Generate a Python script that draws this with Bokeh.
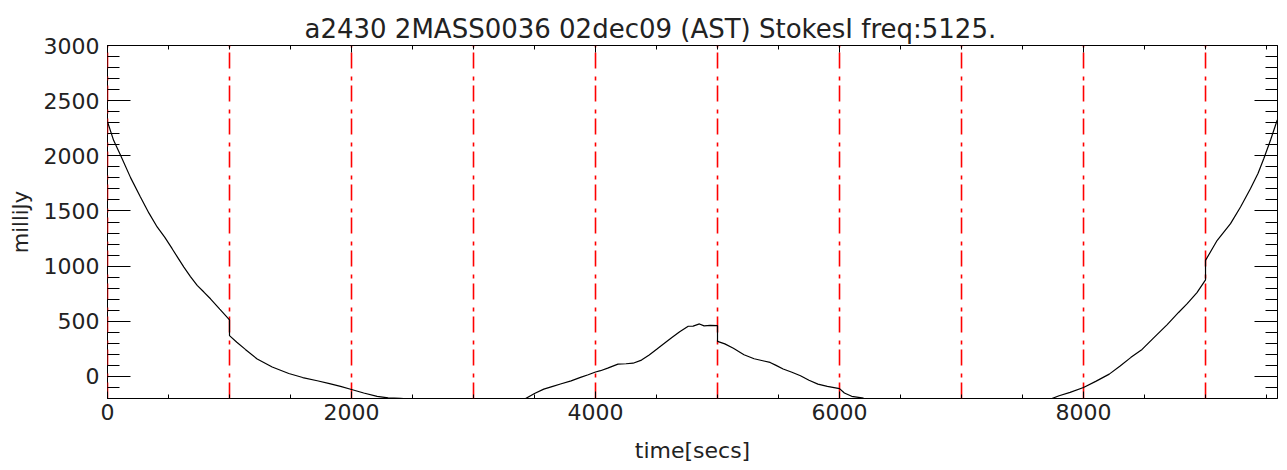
import numpy as np
from bokeh.plotting import figure
from bokeh.models import (LinearAxis, SingleIntervalTicker, Range1d,
                          CustomJSTickFormatter, ColumnDataSource)
from bokeh.embed import file_html
from bokeh.resources import INLINE

# ---- data ----
title_text = "a2430 2MASS0036 02dec09 (AST) StokesI freq:5125."
x_label = "time[secs]"
y_label = "milliJy"

seg1_t = [0, 50, 107, 190, 270, 340, 407, 470, 530, 580, 626, 680, 735, 790, 844, 920, 1000]
seg1_v = [2309, 2140, 2006, 1800, 1627, 1480, 1355, 1260, 1158, 1070, 991, 905, 825, 765, 704, 610, 513]

seg2_t = [1000, 1060, 1130, 1227, 1350, 1486, 1600, 1719, 1820, 1910, 2000, 2100, 2210, 2300, 2400, 2480]
seg2_v = [370, 310, 245, 158, 85, 27, -10, -39, -65, -90, -118, -150, -180, -195, -198, -205]

seg3_t = [3420, 3500, 3576, 3650, 3713, 3800, 3877, 3940, 4000, 4041, 4100, 4184, 4250, 4308,
          4377, 4440, 4504, 4570, 4629, 4690, 4760, 4800, 4852, 4890, 4940, 5000]
seg3_v = [-205, -155, -115, -90, -69, -40, -9, 15, 40, 52, 75, 112, 115, 120,
          148, 195, 248, 305, 355, 405, 455, 456, 476, 458, 462, 460]

seg4_t = [5000, 5060, 5130, 5217, 5300, 5380, 5431, 5480, 5538, 5610, 5680, 5750, 5823, 5900,
          6000, 6040, 6100, 6197]
seg4_v = [318, 295, 255, 197, 160, 140, 127, 100, 67, 38, 6, -35, -70, -90,
          -110, -150, -180, -197]

seg5_t = [7730, 7800, 7890, 8000, 8100, 8211, 8300, 8389, 8480, 8575, 8686, 8779, 8850, 8930, 9000]
seg5_v = [-205, -175, -145, -100, -45, 21, 95, 173, 245, 350, 470, 580, 660, 760, 876]

seg6_t = [9000, 9096, 9205, 9287, 9369, 9430, 9478, 9533, 9588]
seg6_v = [1052, 1234, 1385, 1536, 1703, 1840, 1976, 2143, 2325]

marker_times = [0, 1000, 2000, 3000, 4000, 5000, 6000, 7000, 8000, 9000]

x_min, x_max = 0, 9590
y_min, y_max = -200, 3000

# one line, broken where the data leave the plot
t_all = np.array(seg1_t + seg2_t + [np.nan] + seg3_t + seg4_t + [np.nan] + seg5_t + seg6_t, dtype=float)
v_all = np.array(seg1_v + seg2_v + [np.nan] + seg3_v + seg4_v + [np.nan] + seg5_v + seg6_v, dtype=float)
src = ColumnDataSource(data=dict(t=t_all, v=v_all))
msrc = ColumnDataSource(data=dict(x=np.array(marker_times, dtype=float),
                                  y0=np.full(len(marker_times), float(y_min)),
                                  y1=np.full(len(marker_times), float(y_max))))

FONT = "DejaVu Sans"
TXT = "#222222"

p = figure(width=1287, height=470, x_range=Range1d(x_min, x_max), y_range=Range1d(y_min, y_max),
           output_backend="svg", toolbar_location=None,
           min_border_left=107, min_border_right=10, min_border_top=45, min_border_bottom=72)
p.xgrid.visible = False
p.ygrid.visible = False
p.outline_line_color = "black"
p.outline_line_width = 1
p.background_fill_color = "white"
p.border_fill_color = "white"

p.title.text = title_text
p.title.text_font = FONT
p.title.text_font_size = "26px"
p.title.text_font_style = "normal"
p.title.text_color = TXT
p.title.align = "left"
p.title.offset = 197
p.title.vertical_align = "top"
p.title.standoff = 0

xt = SingleIntervalTicker(interval=2000, num_minor_ticks=4)
yt = SingleIntervalTicker(interval=500, num_minor_ticks=5)

def style_x(ax):
    ax.ticker = xt
    ax.major_tick_in = 7
    ax.major_tick_out = 0
    ax.minor_tick_in = 4
    ax.minor_tick_out = 0
    ax.axis_line_color = None
    ax.major_tick_line_color = "black"
    ax.minor_tick_line_color = "black"

def style_y(ax):
    ax.ticker = yt
    ax.major_tick_in = 23
    ax.major_tick_out = 0
    ax.minor_tick_in = 12
    ax.minor_tick_out = 0
    ax.axis_line_color = None
    ax.major_tick_line_color = "black"
    ax.minor_tick_line_color = "black"

xa = p.xaxis[0]
style_x(xa)
xa.axis_label = x_label
xa.axis_label_text_font = FONT
xa.axis_label_text_font_size = "22px"
xa.axis_label_text_font_style = "normal"
xa.axis_label_text_color = TXT
xa.axis_label_standoff = 15
xa.major_label_text_font = FONT
xa.major_label_text_font_size = "22px"
xa.major_label_text_color = TXT
xa.major_label_standoff = 5

ya = p.yaxis[0]
style_y(ya)
ya.axis_label = y_label
ya.axis_label_text_font = FONT
ya.axis_label_text_font_size = "21px"
ya.axis_label_text_font_style = "normal"
ya.axis_label_text_color = TXT
ya.axis_label_standoff = 8
ya.major_label_text_font = FONT
ya.major_label_text_font_size = "22px"
ya.major_label_text_color = TXT
ya.major_label_standoff = 8

blank = CustomJSTickFormatter(code="return '';")
top = LinearAxis(formatter=blank, major_label_standoff=0)
style_x(top)
p.add_layout(top, "above")
right = LinearAxis(formatter=blank, major_label_standoff=0)
style_y(right)
p.add_layout(right, "right")

p.segment(x0="x", y0="y0", x1="x", y1="y1", source=msrc,
          line_color="#ff0000", line_width=1.6, line_dash="16 5 4 8")

p.line("t", "v", source=src, line_color="black", line_width=1.2)

open("out.html", "w").write(file_html(p, INLINE))
